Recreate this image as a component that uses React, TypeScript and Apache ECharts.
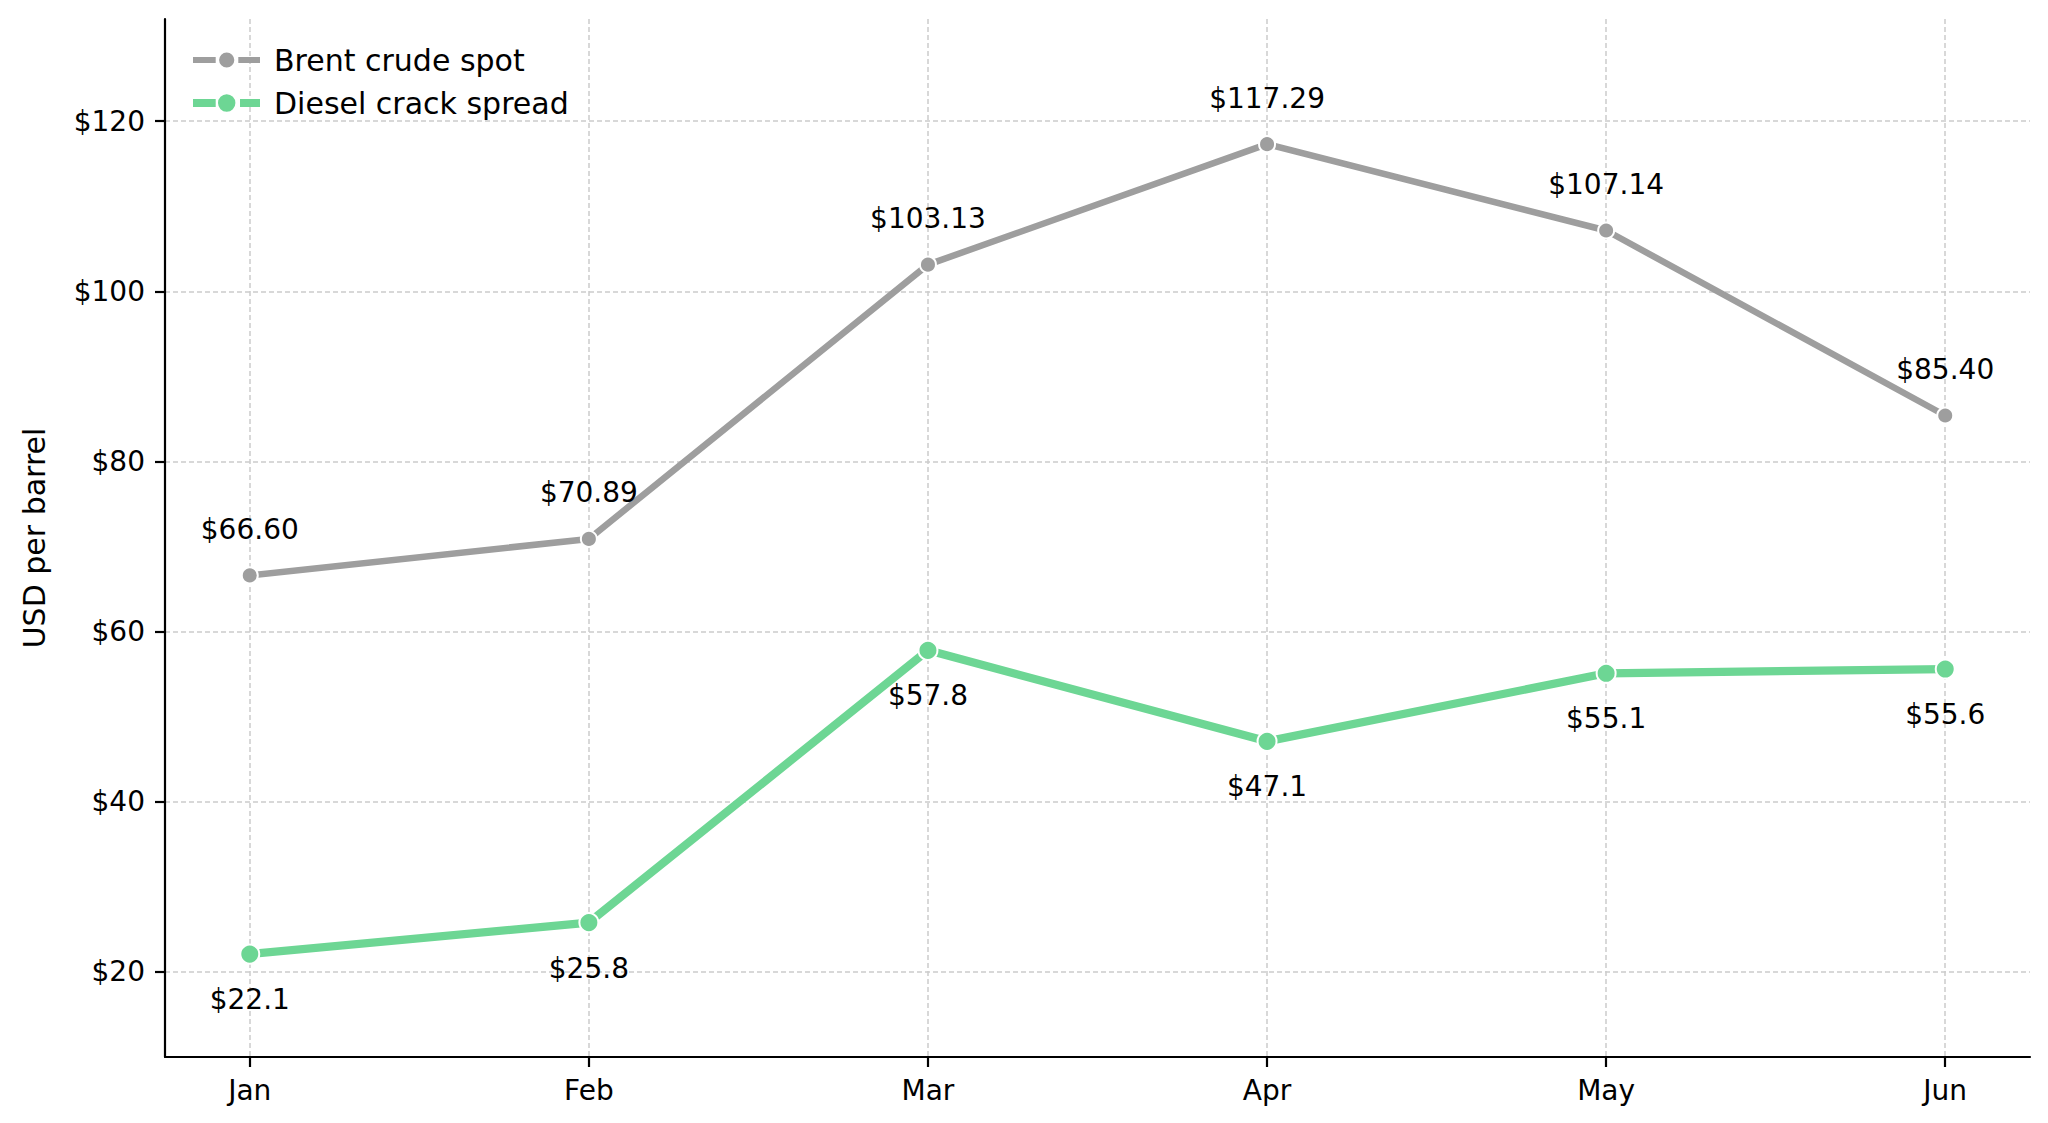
import React, { useEffect, useRef } from "react";
import * as echarts from "echarts";

const months = ["Jan", "Feb", "Mar", "Apr", "May", "Jun"];
const brentSpot = [66.6, 70.89, 103.13, 117.29, 107.14, 85.4];
const dieselCrack = [22.1, 25.8, 57.8, 47.1, 55.1, 55.6];
const yTicks = [20, 40, 60, 80, 100, 120];

const FONT = "DejaVu Sans";
const GRAY = "#9e9e9e";
const GREEN = "#6dd694";

// legend handle: line – marker – line, in a 67 x 19 box (tiny corner dots fix the bbox)
function handlePath(thick: number, r: number, rightStart: number): string {
  const cy = 9.5;
  const t0 = cy - thick / 2;
  const t1 = cy + thick / 2;
  const cx = 33.7;
  return (
    "path://M0,0L0.01,0L0,0.01Z" +
    "M67,19L66.99,19L67,18.99Z" +
    `M0,${t0}L22.7,${t0}L22.7,${t1}L0,${t1}Z` +
    `M${rightStart},${t0}L67,${t0}L67,${t1}L${rightStart},${t1}Z` +
    `M${cx - r},${cy}A${r},${r},0,1,0,${cx + r},${cy}A${r},${r},0,1,0,${cx - r},${cy}Z`
  );
}

export default function App() {
  const ref = useRef<HTMLDivElement>(null);
  useEffect(() => {
    document.body.style.margin = "0";
    const chart = echarts.init(ref.current!, null, { renderer: "svg" });
    const xIdx = months.map((_, i) => i);
    const grid = "#cccccc";
    chart.setOption({
      animation: false,
      backgroundColor: "#ffffff",
      textStyle: { fontFamily: FONT },
      grid: { left: 165, top: 19, right: 18, bottom: 66, containLabel: false },
      legend: {
        orient: "vertical",
        left: 188,
        top: 39,
        itemWidth: 67,
        itemHeight: 19,
        itemGap: 11,
        textStyle: {
          fontFamily: FONT,
          fontSize: 30,
          color: "#000",
          padding: [0, 0, 0, 9],
          lineHeight: 32,
        },
        data: [
          {
            name: "Brent crude spot",
            icon: handlePath(6, 7.6, 45.3),
            itemStyle: { color: GRAY, borderWidth: 0, borderColor: "transparent" },
          },
          {
            name: "Diesel crack spread",
            icon: handlePath(8, 8.7, 47),
            itemStyle: { color: GREEN, borderWidth: 0, borderColor: "transparent" },
          },
        ],
      },
      xAxis: {
        type: "value",
        min: -0.25,
        max: 5.25,
        axisLine: { show: true, onZero: false, lineStyle: { color: "#000", width: 2.2 } },
        axisTick: {
          show: true,
          customValues: xIdx,
          length: 10,
          lineStyle: { color: "#000", width: 2.2 },
        },
        axisLabel: {
          customValues: xIdx,
          formatter: (v: number) => months[Math.round(v)] ?? "",
          fontFamily: FONT,
          fontSize: 28,
          color: "#000",
          margin: 19,
        },
        splitLine: {
          show: true,
          lineStyle: { color: grid, width: 1.5, type: [5, 3] },
        },
      },
      yAxis: {
        type: "value",
        min: 10,
        max: 132,
        name: "USD per barrel",
        nameLocation: "middle",
        nameRotate: 90,
        nameGap: 116,
        nameTextStyle: { fontFamily: FONT, fontSize: 30, color: "#000" },
        axisLine: { show: true, onZero: false, lineStyle: { color: "#000", width: 2.2 } },
        axisTick: {
          show: true,
          customValues: yTicks,
          length: 10,
          lineStyle: { color: "#000", width: 2.2 },
        },
        axisLabel: {
          customValues: yTicks,
          formatter: (v: number) => `$${v}`,
          fontFamily: FONT,
          fontSize: 28,
          color: "#000",
          margin: 20,
        },
        splitLine: {
          show: true,
          lineStyle: { color: grid, width: 1.5, type: [5, 3] },
        },
      },
      series: [
        {
          name: "Brent crude spot",
          type: "line",
          data: xIdx.map((i) => [i, brentSpot[i]]),
          symbol: "circle",
          symbolSize: 16,
          lineStyle: { color: GRAY, width: 6.5 },
          itemStyle: { color: GRAY, borderColor: "#ffffff", borderWidth: 2 },
          label: {
            show: true,
            position: "top",
            distance: 23,
            formatter: (p: any) => `$${p.value[1].toFixed(2)}`,
            fontFamily: FONT,
            fontSize: 28,
            color: "#000",
          },
          z: 3,
        },
        {
          name: "Diesel crack spread",
          type: "line",
          data: xIdx.map((i) => [i, dieselCrack[i]]),
          symbol: "circle",
          symbolSize: 19,
          lineStyle: { color: GREEN, width: 8.3 },
          itemStyle: { color: GREEN, borderColor: "#ffffff", borderWidth: 2 },
          label: {
            show: true,
            position: "bottom",
            distance: 21,
            formatter: (p: any) => `$${p.value[1].toFixed(1)}`,
            fontFamily: FONT,
            fontSize: 28,
            color: "#000",
          },
          z: 3,
        },
      ],
    });
    return () => chart.dispose();
  }, []);
  return <div ref={ref} style={{ width: 2048, height: 1123 }} />;
}
